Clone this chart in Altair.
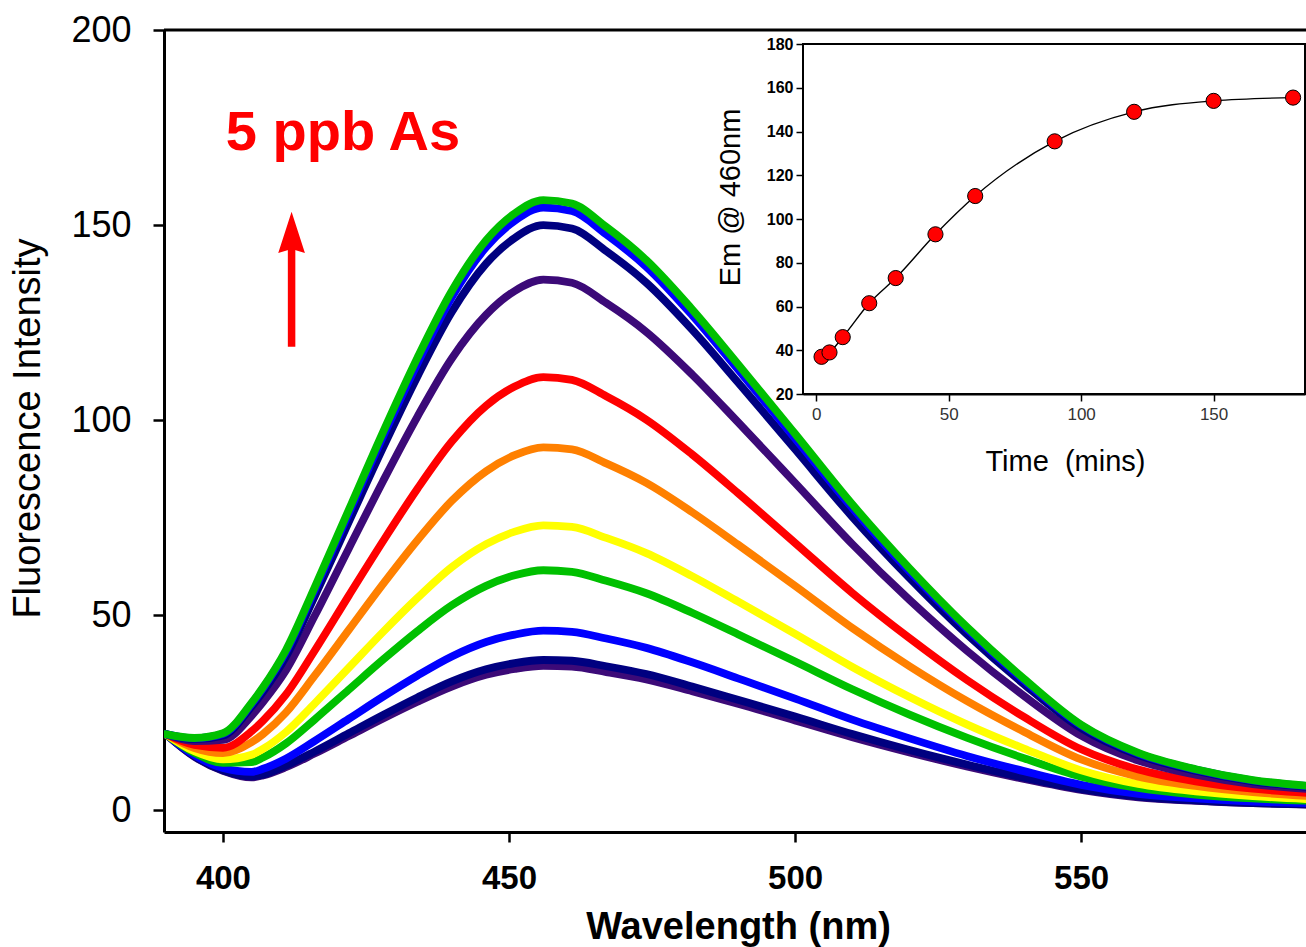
import altair as alt
import pandas as pd

# ---------------- data ----------------
WAVELENGTH = [390, 395, 400, 405, 407, 411, 416, 422, 428, 434, 440, 446, 451, 456, 461,
              467, 474, 482, 490, 500, 510, 520, 530, 540, 550, 560, 570, 580, 590]

EM_2 = [19.5, 13.7, 10.1, 8.4, 8.9, 11.0, 14.5, 19.0, 23.5, 27.8, 31.7, 34.7, 36.2, 37.0, 36.8,
        35.4, 33.5, 30.5, 27.3, 23.0, 18.7, 14.8, 11.2, 8.0, 5.2, 3.3, 2.4, 1.8, 1.4]
EM_5 = [19.5, 13.8, 10.2, 8.6, 9.1, 11.4, 15.0, 19.7, 24.4, 28.9, 33.0, 36.1, 37.7, 38.5, 38.3,
        36.9, 34.9, 31.7, 28.3, 24.0, 19.5, 15.4, 11.7, 8.3, 5.4, 3.5, 2.5, 1.8, 1.5]
EM_10 = [19.5, 14.1, 10.8, 9.8, 10.6, 13.2, 17.7, 23.4, 29.1, 34.5, 39.4, 43.1, 45.0, 46.0, 45.7,
         44.0, 41.6, 37.9, 33.8, 28.6, 23.2, 18.4, 13.9, 10.0, 6.5, 4.2, 3.0, 2.2, 1.8]
EM_20 = [19.5, 14.7, 12.1, 12.3, 13.5, 17.1, 23.2, 30.9, 38.6, 45.9, 52.5, 57.5, 60.2, 61.5, 61.1,
         58.8, 55.6, 50.6, 45.1, 38.1, 31.0, 24.5, 18.6, 13.3, 8.6, 5.7, 4.0, 3.0, 2.4]
EM_30 = [19.5, 15.1, 13.0, 14.2, 15.7, 20.0, 27.3, 36.5, 45.7, 54.4, 62.3, 68.2, 71.4, 73.0, 72.6,
         69.8, 65.9, 60.0, 53.5, 45.2, 36.7, 29.0, 22.0, 15.8, 10.2, 6.7, 4.8, 3.6, 2.8]
EM_45 = [19.5, 15.9, 14.6, 17.4, 19.5, 25.0, 34.4, 46.2, 58.0, 69.2, 79.3, 86.9, 91.0, 93.0, 92.5,
         88.9, 83.9, 76.4, 68.1, 57.5, 46.7, 36.9, 28.0, 20.1, 13.0, 8.6, 6.2, 4.6, 3.6]
EM_60 = [19.5, 16.7, 16.0, 20.2, 22.9, 29.6, 40.8, 55.0, 69.0, 82.4, 94.5, 103.7, 108.6, 111.0, 110.3,
         106.1, 100.1, 91.2, 81.3, 68.5, 55.7, 44.1, 33.4, 23.9, 15.6, 10.4, 7.4, 5.5, 4.4]
EM_90 = [19.5, 17.7, 18.0, 24.2, 27.7, 35.8, 49.7, 67.1, 84.4, 100.9, 115.8, 127.0, 133.1, 136.0, 135.2,
         130.0, 122.6, 111.7, 99.5, 83.9, 68.2, 53.9, 40.9, 29.3, 19.1, 12.7, 9.1, 6.7, 5.4]
EM_120 = [19.5, 18.2, 19.1, 26.5, 30.3, 39.3, 54.7, 73.9, 93.0, 111.2, 127.7, 140.1, 146.7, 150.0, 149.1,
          143.3, 135.2, 123.2, 109.7, 92.5, 75.2, 59.5, 45.1, 32.3, 21.0, 14.1, 10.1, 7.4, 5.9]
EM_150 = [19.5, 18.4, 19.5, 27.2, 31.2, 40.5, 56.3, 76.1, 95.8, 114.5, 131.5, 144.3, 151.1, 154.5, 153.6,
          147.6, 139.3, 126.9, 113.0, 95.3, 77.5, 61.2, 46.5, 33.3, 21.7, 14.5, 10.4, 7.6, 6.1]
EM_180 = [19.5, 18.5, 19.7, 27.5, 31.5, 41.0, 57.0, 77.0, 97.0, 116.0, 133.1, 146.1, 153.0, 156.4, 155.5,
          149.5, 141.0, 128.4, 114.4, 96.5, 78.4, 62.0, 47.0, 33.7, 21.9, 14.7, 10.5, 7.7, 6.2]

SPECTRA = [EM_2, EM_5, EM_10, EM_20, EM_30, EM_45, EM_60, EM_90, EM_120, EM_150, EM_180]
COLORS = ["#3C0A78", "#000080", "#0000FF", "#00C000", "#FFFF00", "#FF8000",
          "#FF0000", "#3C0A78", "#000080", "#0000FF", "#00C000"]

TIME_MIN = [2, 5, 10, 20, 30, 45, 60, 90, 120, 150, 180]
EM_460 = [37, 39, 46, 61.5, 73, 93, 110.5, 135.5, 149, 154, 155.5]

ANNOT_TEXT = ["5 ppb As"]

# ---------------- layout ----------------
W, H = 1142, 802
FONT = "Liberation Sans"

xs = alt.Scale(domain=[389.7, 589.3], nice=False, zero=False)
ys = alt.Scale(domain=[-5.6, 200], nice=False, zero=False)

x_axis = alt.Axis(values=[400, 450, 500, 550], title="Wavelength (nm)", grid=False,
                  domainColor="black", domainWidth=3, tickColor="black", tickWidth=2.5, tickSize=10,
                  labelFont=FONT, labelFontSize=33, labelFontWeight="bold", labelColor="black",
                  labelPadding=20, titleFont=FONT, titleFontSize=38, titleFontWeight="bold",
                  titleColor="black", titleBaseline="alphabetic", titleAlign="center",
                  titleX=574, titleY=106)
y_axis = alt.Axis(values=[0, 50, 100, 150, 200], title="Fluorescence Intensity", grid=False,
                  domainColor="black", domainWidth=3, tickColor="black", tickWidth=2.5, tickSize=11,
                  labelFont=FONT, labelFontSize=36, labelColor="black", labelPadding=22,
                  titleFont=FONT, titleFontSize=38, titleFontWeight="normal", titleColor="black",
                  titleAngle=270, titleBaseline="middle", titleAlign="center",
                  titleX=-136, titleY=398)

main_layers = []
# top frame line
main_layers.append(
    alt.Chart(pd.DataFrame({"v": [200]})).mark_rule(color="black", strokeWidth=3).encode(
        y=alt.Y("v:Q", scale=ys, axis=y_axis), x=alt.value(0), x2=alt.value(W))
)
for vals, col in zip(SPECTRA, COLORS):
    df = pd.DataFrame({"wl": WAVELENGTH, "v": vals})
    main_layers.append(
        alt.Chart(df).mark_line(color=col, strokeWidth=7.8, clip=True, interpolate="monotone",
                                strokeCap="round", strokeJoin="round").encode(
            x=alt.X("wl:Q", scale=xs, axis=x_axis),
            y=alt.Y("v:Q", scale=ys, axis=y_axis))
    )

annot = pd.DataFrame({"wl": [400.5], "v": [169.2], "t": ANNOT_TEXT})
main_layers.append(
    alt.Chart(annot).mark_text(align="left", baseline="alphabetic", font=FONT, fontSize=56,
                               fontWeight="bold", color="#FF0000").encode(
        x=alt.X("wl:Q", scale=xs, axis=x_axis), y=alt.Y("v:Q", scale=ys, axis=y_axis), text="t:N")
)
arrow = pd.DataFrame({"wl": [412.0], "v": [118.8], "v2": [145.0], "head": [148.1]})
main_layers.append(
    alt.Chart(arrow).mark_rule(color="#FF0000", strokeWidth=7.5).encode(
        x=alt.X("wl:Q", scale=xs, axis=x_axis), y=alt.Y("v:Q", scale=ys, axis=y_axis), y2="v2:Q")
)
main_layers.append(
    alt.Chart(arrow).mark_point(shape="M0,-1L0.646,1L0,0.8L-0.646,1Z", size=1706, filled=True,
                                color="#FF0000", opacity=1, strokeWidth=0).encode(
        x=alt.X("wl:Q", scale=xs, axis=x_axis), y=alt.Y("head:Q", scale=ys, axis=y_axis))
)
main = alt.layer(*main_layers)

# ---------------- inset ----------------
ixs = alt.Scale(domain=[-5, 184.5], range=[639, 1141], nice=False, zero=False)
iys = alt.Scale(domain=[20, 180], range=[364, 14], nice=False, zero=False)

ix_axis = alt.Axis(values=[0, 50, 100, 150], orient="bottom", offset=-438, grid=False,
                   domainColor="black", domainWidth=2, tickColor="black", tickWidth=1.5, tickSize=7,
                   labelFont=FONT, labelFontSize=17, labelColor="#333333", labelPadding=5,
                   title="Time \u00a0(mins)", titleFont=FONT, titleFontSize=29, titleFontWeight="normal",
                   titleColor="black", titleBaseline="alphabetic", titleAlign="center",
                   titleX=901, titleY=76)
iy_axis = alt.Axis(values=[20, 40, 60, 80, 100, 120, 140, 160, 180], orient="left", offset=-639,
                   grid=False, domainColor="black", domainWidth=2, tickColor="black", tickWidth=1.5,
                   tickSize=7, labelFont=FONT, labelFontSize=16, labelFontWeight="bold",
                   labelColor="black", labelPadding=3,
                   title="Em @ 460nm", titleFont=FONT, titleFontSize=29, titleFontWeight="normal",
                   titleColor="black", titleAngle=270, titleBaseline="middle", titleAlign="center",
                   titleX=-73, titleY=167)

frame = pd.DataFrame({"t": [-5], "t2": [184.5], "e": [20], "e2": [180]})
inset_frame = alt.Chart(frame).mark_rect(fill="white", stroke="black", strokeWidth=2).encode(
    x=alt.X("t:Q", scale=ixs, axis=ix_axis), x2="t2:Q",
    y=alt.Y("e:Q", scale=iys, axis=iy_axis), y2="e2:Q")

kin = pd.DataFrame({"t": TIME_MIN, "e": EM_460})
inset_line = alt.Chart(kin).mark_line(color="black", strokeWidth=1.4, interpolate="monotone").encode(
    x=alt.X("t:Q", scale=ixs, axis=ix_axis), y=alt.Y("e:Q", scale=iys, axis=iy_axis))
inset_pts = alt.Chart(kin).mark_point(shape="circle", filled=True, fill="#FF0000", stroke="black",
                                      strokeWidth=1, size=230, opacity=1).encode(
    x=alt.X("t:Q", scale=ixs, axis=ix_axis), y=alt.Y("e:Q", scale=iys, axis=iy_axis))
inset = alt.layer(inset_frame, inset_line, inset_pts)

chart = alt.layer(main, inset).resolve_scale(x="independent", y="independent").properties(
    width=W, height=H,
    autosize=alt.AutoSizeParams(type="none"),
    padding={"left": 164, "top": 30, "right": 0, "bottom": 115},
    background="white",
).configure_view(stroke=None)

chart.save("out.html", embed_options={"renderer": "svg", "actions": False})
